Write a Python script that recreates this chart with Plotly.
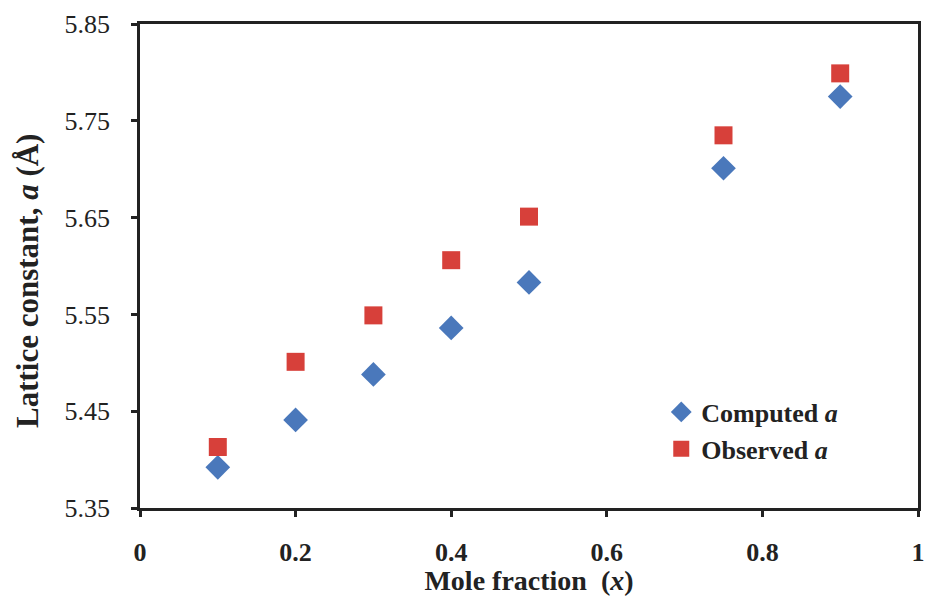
import plotly.graph_objects as go

mole_fraction = [0.1, 0.2, 0.3, 0.4, 0.5, 0.75, 0.9]
computed_a = [5.392, 5.441, 5.488, 5.536, 5.583, 5.701, 5.775]
observed_a = [5.413, 5.501, 5.549, 5.606, 5.651, 5.735, 5.799]
x_ticks = [0, 0.2, 0.4, 0.6, 0.8, 1]
x_ticklabels = ["0", "0.2", "0.4", "0.6", "0.8", "1"]
y_ticks = [5.35, 5.45, 5.55, 5.65, 5.75, 5.85]
y_ticklabels = ["5.35", "5.45", "5.55", "5.65", "5.75", "5.85"]

FONT = "Liberation Serif"
BLUE = "#4a78bb"
RED = "#d7403a"
AXC = "#222222"

W, H = 925, 596
ML, MR, MT, MB = 140, 7, 24, 88
PW, PH = W - ML - MR, H - MT - MB

fig = go.Figure()
fig.add_trace(go.Scatter(
    x=mole_fraction, y=computed_a, mode="markers", name="Computed <i>a</i>",
    marker=dict(symbol="diamond", size=19, color=BLUE, line=dict(width=0)),
))
fig.add_trace(go.Scatter(
    x=mole_fraction, y=observed_a, mode="markers", name="Observed <i>a</i>",
    marker=dict(symbol="square", size=18, color=RED, line=dict(width=0)),
))

fig.add_annotation(
    text="Lattice constant, <i>a</i> (Å)", textangle=-90,
    xref="paper", yref="paper",
    x=(27 - ML) / PW, y=(H - MB - 281) / PH,
    xanchor="center", yanchor="middle", showarrow=False,
    font=dict(family=FONT, size=31, color="#222", weight="bold"),
)

fig.update_layout(
    width=W, height=H,
    margin=dict(l=ML, r=MR, t=MT, b=MB),
    paper_bgcolor="white", plot_bgcolor="white",
    font=dict(family=FONT, size=26, color="#222"),
    legend=dict(
        x=0.67, y=0.16, xanchor="left", yanchor="middle",
        bgcolor="rgba(0,0,0,0)",
        font=dict(family=FONT, size=26, color="#222", weight="bold"),
        itemwidth=30, tracegroupgap=0,
    ),
    xaxis=dict(
        range=[0, 1], tickvals=x_ticks, ticktext=x_ticklabels,
        showgrid=False, zeroline=False, automargin=False,
        showline=True, linecolor=AXC, linewidth=2.5, mirror=True,
        ticks="outside", ticklen=6, tickwidth=2.5, tickcolor=AXC,
        tickfont=dict(family=FONT, size=26, color="#222", weight="bold"),
        ticklabelstandoff=13,
        title=dict(text="Mole fraction  (<i>x</i>)", standoff=4,
                   font=dict(family=FONT, size=28, color="#222", weight="bold")),
    ),
    yaxis=dict(
        range=[5.35, 5.85], tickvals=y_ticks, ticktext=y_ticklabels,
        showgrid=False, zeroline=False, automargin=False,
        showline=True, linecolor=AXC, linewidth=2.5, mirror=True,
        ticks="outside", ticklen=6, tickwidth=2.5, tickcolor=AXC,
        tickfont=dict(family=FONT, size=26, color="#222"),
        ticklabelstandoff=16,
    ),
)

fig.write_html("out.html")
